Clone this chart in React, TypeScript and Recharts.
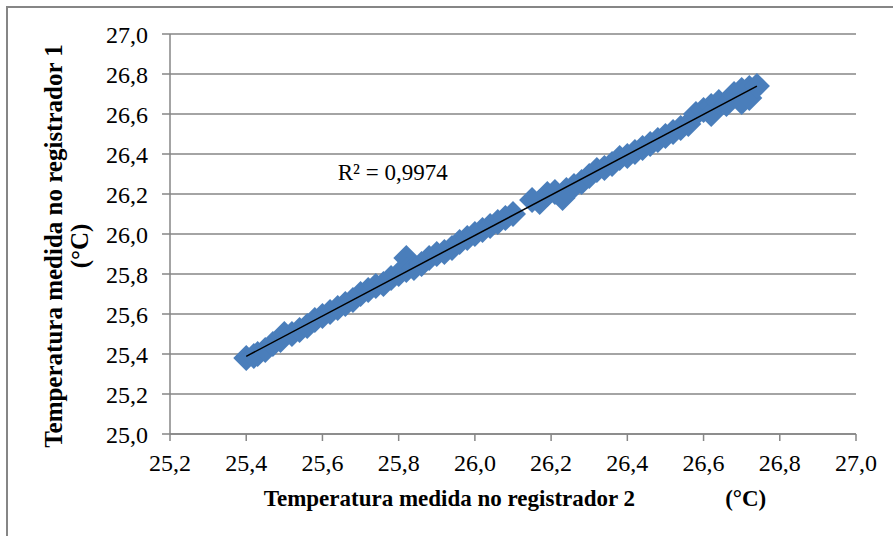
import React from 'react';
import { ScatterChart, Scatter, XAxis, YAxis, CartesianGrid, ReferenceDot } from 'recharts';

// readings from logger 2 (x) and logger 1 (y), in °C
const registrador2 = [
  25.40, 25.42, 25.43, 25.45, 25.47, 25.49, 25.50, 25.52, 25.54, 25.56,
  25.58, 25.60, 25.62, 25.64, 25.66, 25.68, 25.70, 25.72, 25.74, 25.76,
  25.78, 25.80, 25.82, 25.82, 25.84, 25.86, 25.88, 25.90, 25.92, 25.94,
  25.96, 25.98, 26.00, 26.02, 26.04, 26.06, 26.08, 26.10, 26.15, 26.17,
  26.19, 26.21, 26.23, 26.24, 26.26, 26.28, 26.30, 26.32, 26.34, 26.36,
  26.38, 26.40, 26.42, 26.44, 26.46, 26.48, 26.50, 26.52, 26.54, 26.56,
  26.58, 26.60, 26.62, 26.62, 26.64, 26.66, 26.68, 26.70, 26.70, 26.72,
  26.72, 26.74,
];
const registrador1 = [
  25.38, 25.39, 25.40, 25.42, 25.45, 25.47, 25.50, 25.50, 25.52, 25.54,
  25.57, 25.59, 25.61, 25.63, 25.65, 25.67, 25.70, 25.72, 25.74, 25.75,
  25.78, 25.80, 25.88, 25.82, 25.83, 25.85, 25.88, 25.90, 25.91, 25.93,
  25.96, 25.98, 26.00, 26.02, 26.04, 26.06, 26.08, 26.10, 26.17, 26.16,
  26.20, 26.21, 26.18, 26.22, 26.24, 26.26, 26.29, 26.32, 26.33, 26.35,
  26.38, 26.39, 26.41, 26.43, 26.45, 26.47, 26.49, 26.51, 26.53, 26.55,
  26.60, 26.62, 26.64, 26.60, 26.66, 26.65, 26.70, 26.72, 26.66, 26.73,
  26.68, 26.74,
];
const xTicks = [25.2, 25.4, 25.6, 25.8, 26.0, 26.2, 26.4, 26.6, 26.8, 27.0];
const yTicks = [25.0, 25.2, 25.4, 25.6, 25.8, 26.0, 26.2, 26.4, 26.6, 26.8, 27.0];
const r2Text = 'R² = 0,9974';

const FONT = '"Liberation Serif", "Times New Roman", serif';
const GRAY = '#868686';
const BLUE = '#4a7ebb';

const points = registrador2.map((x, i) => ({ x, y: registrador1[i] }));

// least squares line for the trend
const n = points.length;
const mx = registrador2.reduce((a, b) => a + b, 0) / n;
const my = registrador1.reduce((a, b) => a + b, 0) / n;
let sxy = 0;
let sxx = 0;
points.forEach((p) => {
  sxy += (p.x - mx) * (p.y - my);
  sxx += (p.x - mx) * (p.x - mx);
});
const slope = sxy / sxx;
const intercept = my - slope * mx;
const xMin = Math.min(...registrador2);
const xMax = Math.max(...registrador2);
const trend = [
  { x: xMin, y: intercept + slope * xMin },
  { x: xMax, y: intercept + slope * xMax },
];

const fmt = (v: number) => v.toFixed(1).replace('.', ',');

const Diamond = (props: any) => {
  const { cx, cy } = props;
  const h = 13;
  return (
    <polygon
      points={`${cx},${cy - h} ${cx + h},${cy} ${cx},${cy + h} ${cx - h},${cy}`}
      fill={BLUE}
    />
  );
};

const NoDot = () => <g />;

const YTitle = () => {
  const cy = 246;
  const x1 = 62;
  const x2 = 88;
  return (
    <g fontFamily={FONT} fontWeight="bold" fontSize={25} fill="#000">
      <text x={x1} y={cy} textAnchor="middle" transform={`rotate(-90, ${x1}, ${cy})`}>
        Temperatura medida no registrador 1
      </text>
      <text x={x2} y={cy} textAnchor="middle" transform={`rotate(-90, ${x2}, ${cy})`}>
        (°C)
      </text>
    </g>
  );
};

const XTitle = () => {
  return (
    <text x={515} y={506} textAnchor="middle" fontFamily={FONT} fontWeight="bold" fontSize={23} fill="#000">
      <tspan>Temperatura medida no registrador 2</tspan>
      <tspan dx={90}>(°C)</tspan>
    </text>
  );
};

const R2Label = (props: any) => {
  const { viewBox } = props;
  return (
    <text x={viewBox.x} y={viewBox.y} fontFamily={FONT} fontSize={23} fill="#000">
      {r2Text}
    </text>
  );
};

const App = () => {
  return (
    <div style={{ position: 'absolute', left: 0, top: 0, width: 893, height: 536, background: '#fff', overflow: 'hidden' }}>
      <div
        style={{
          position: 'absolute',
          left: 6,
          top: 6,
          width: 900,
          height: 540,
          borderLeft: `2px solid ${GRAY}`,
          borderTop: `2px solid ${GRAY}`,
        }}
      />
      <ScatterChart
        width={893}
        height={536}
        margin={{ top: 34, right: 37, bottom: 42, left: 0 }}
        style={{ position: 'absolute', left: 0, top: 0 }}
      >
        <CartesianGrid vertical={false} stroke={GRAY} strokeWidth={1.5} />
        <XAxis
          type="number"
          dataKey="x"
          domain={[25.2, 27.0]}
          ticks={xTicks}
          tickFormatter={fmt}
          allowDataOverflow
          height={60}
          stroke={GRAY}
          strokeWidth={1.5}
          tickSize={7}
          tickMargin={13}
          tick={{ fill: '#000', fontFamily: FONT, fontSize: 24 }}
          label={{ content: XTitle }}
        />
        <YAxis
          type="number"
          dataKey="y"
          domain={[25.0, 27.0]}
          ticks={yTicks}
          tickFormatter={fmt}
          allowDataOverflow
          width={170}
          stroke={GRAY}
          strokeWidth={1.5}
          tickSize={8}
          tickMargin={14}
          tick={{ fill: '#000', fontFamily: FONT, fontSize: 24 }}
          label={{ content: YTitle }}
        />
        <Scatter data={points} fill={BLUE} shape={Diamond} isAnimationActive={false} />
        <Scatter
          data={trend}
          shape={NoDot}
          line={{ stroke: '#000', strokeWidth: 1.5 }}
          isAnimationActive={false}
        />
        <ReferenceDot x={25.64} y={26.27} r={0} fill="none" stroke="none" label={{ content: R2Label }} />
      </ScatterChart>
    </div>
  );
};

export default App;
